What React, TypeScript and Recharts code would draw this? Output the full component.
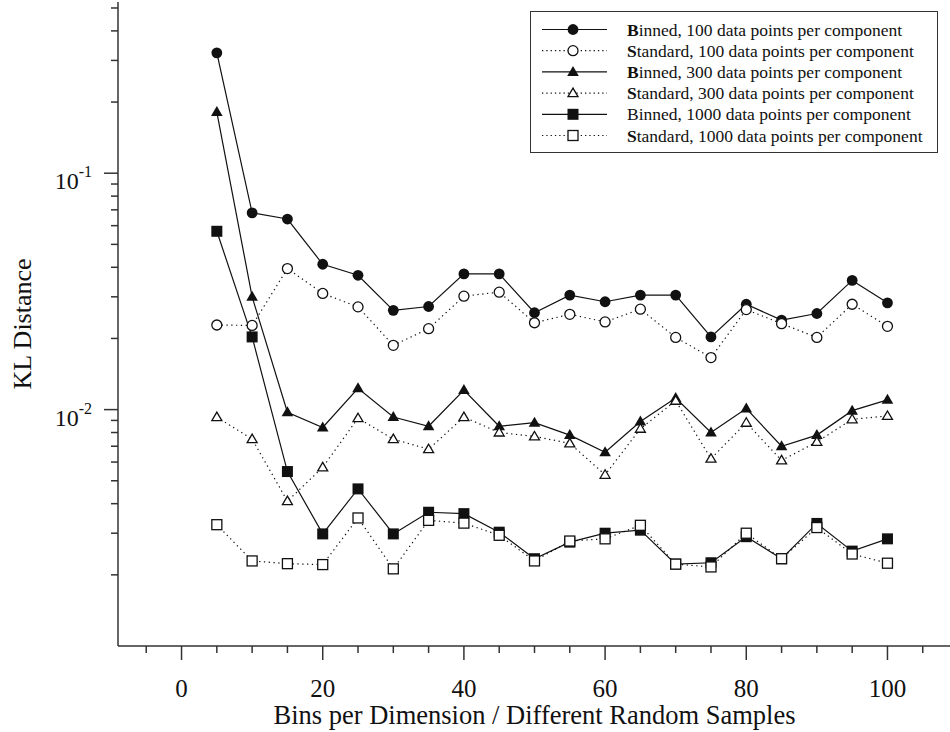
import React from 'react';
import { LineChart, Line, XAxis, YAxis, Legend } from 'recharts';

const FONT = "'Liberation Serif', 'Times New Roman', serif";
const INK = '#111';
const AXIS = '#333';

// bins per dimension / sample index
const X_VALUES = [5, 10, 15, 20, 25, 30, 35, 40, 45, 50, 55, 60, 65, 70, 75, 80, 85, 90, 95, 100];

const BINNED_100 = [0.323, 0.068, 0.064, 0.0412, 0.037, 0.0263, 0.0273, 0.0375, 0.0375, 0.0257,
  0.0305, 0.0286, 0.0305, 0.0305, 0.0203, 0.0279, 0.0239, 0.0255, 0.0352, 0.0283];
const STANDARD_100 = [0.0228, 0.0227, 0.0395, 0.031, 0.0272, 0.0187, 0.022, 0.0302, 0.0314, 0.0233,
  0.0253, 0.0235, 0.0266, 0.0202, 0.0166, 0.0265, 0.0231, 0.0202, 0.0279, 0.0225];
const BINNED_300 = [0.1815, 0.03, 0.00975, 0.0084, 0.0123, 0.0093, 0.0085, 0.0121, 0.0085, 0.0088,
  0.0078, 0.0066, 0.0089, 0.0112, 0.008, 0.0101, 0.007, 0.0078, 0.0099, 0.011];
const STANDARD_300 = [0.0093, 0.0075, 0.0041, 0.0057, 0.0092, 0.0075, 0.0068, 0.0093, 0.008, 0.0077,
  0.0072, 0.0053, 0.0083, 0.0109, 0.0062, 0.0088, 0.0061, 0.0073, 0.0091, 0.0094];
const BINNED_1000 = [0.0568, 0.0203, 0.00547, 0.00298, 0.00462, 0.00298, 0.00368, 0.00363, 0.00303, 0.00234,
  0.00275, 0.003, 0.00309, 0.00222, 0.00225, 0.0029, 0.00234, 0.0033, 0.00252, 0.00284];
const STANDARD_1000 = [0.00326, 0.00229, 0.00223, 0.00221, 0.00348, 0.00212, 0.0034, 0.00331, 0.00294, 0.00229,
  0.00278, 0.00284, 0.00324, 0.00222, 0.00216, 0.003, 0.00234, 0.00317, 0.00245, 0.00224];

const X_TICKS = [-5, 0, 5, 10, 15, 20, 25, 30, 35, 40, 45, 50, 55, 60, 65, 70, 75, 80, 85, 90, 95, 100, 105];
const Y_TICKS = [0.002, 0.003, 0.004, 0.005, 0.006, 0.007, 0.008, 0.009, 0.01,
  0.02, 0.03, 0.04, 0.05, 0.06, 0.07, 0.08, 0.09, 0.1, 0.2, 0.3, 0.4, 0.5];

type Shape = 'circle' | 'triangle' | 'square';

const SERIES: { key: string; name: string; boldFirst: boolean; shape: Shape; filled: boolean; values: number[] }[] = [
  { key: 'b100', name: 'Binned, 100 data points per component', boldFirst: true, shape: 'circle', filled: true, values: BINNED_100 },
  { key: 's100', name: 'Standard, 100 data points per component', boldFirst: true, shape: 'circle', filled: false, values: STANDARD_100 },
  { key: 'b300', name: 'Binned, 300 data points per component', boldFirst: true, shape: 'triangle', filled: true, values: BINNED_300 },
  { key: 's300', name: 'Standard, 300 data points per component', boldFirst: true, shape: 'triangle', filled: false, values: STANDARD_300 },
  { key: 'b1000', name: 'Binned, 1000 data points per component', boldFirst: false, shape: 'square', filled: true, values: BINNED_1000 },
  { key: 's1000', name: 'Standard, 1000 data points per component', boldFirst: true, shape: 'square', filled: false, values: STANDARD_1000 },
];

const data = X_VALUES.map((x, i) => {
  const row: Record<string, number> = { x };
  SERIES.forEach(s => { row[s.key] = s.values[i]; });
  return row;
});

const Marker = ({ shape, filled, cx, cy }: { shape: Shape; filled: boolean; cx: number; cy: number }) => {
  const fill = filled ? INK : '#fff';
  const sw = filled ? 0 : 1.3;
  if (shape === 'circle') {
    return <circle cx={cx} cy={cy} r={filled ? 5.4 : 5} fill={fill} stroke={INK} strokeWidth={sw} />;
  }
  if (shape === 'triangle') {
    const p = filled
      ? `${cx},${cy - 6} ${cx - 5.8},${cy + 4} ${cx + 5.8},${cy + 4}`
      : `${cx},${cy - 5} ${cx - 5},${cy + 3.5} ${cx + 5},${cy + 3.5}`;
    return <polygon points={p} fill={fill} stroke={INK} strokeWidth={sw} />;
  }
  const h = filled ? 5.5 : 5;
  return <rect x={cx - h} y={cy - h} width={h * 2} height={h * 2} fill={fill} stroke={INK} strokeWidth={sw} />;
};

const makeDot = (shape: Shape, filled: boolean) => (props: any) => {
  const { cx, cy, index, dataKey } = props;
  if (cx == null || cy == null) return <g key={`${dataKey}-${index}`} />;
  return (
    <g key={`${dataKey}-${index}`}>
      <Marker shape={shape} filled={filled} cx={cx} cy={cy} />
    </g>
  );
};

const XTick = ({ x, y, payload }: any) => {
  const v = payload.value;
  const major = v % 20 === 0;
  return (
    <g>
      <line x1={x} x2={x} y1={y} y2={y + (major ? 14 : 7)} stroke={AXIS} strokeWidth={1.5} />
      {major && (
        <text x={x} y={y + 51} textAnchor="middle" fontSize={25} fontFamily={FONT} fill={INK}>{v}</text>
      )}
    </g>
  );
};

const YTick = ({ x, y, payload }: any) => {
  const v = payload.value;
  const exp = Math.log10(v);
  const major = Math.abs(exp - Math.round(exp)) < 1e-6;
  return (
    <g>
      <line x1={x - (major ? 14 : 7)} x2={x} y1={y} y2={y} stroke={AXIS} strokeWidth={1.5} />
      {major && (
        <text x={x - 26} y={y + 16} textAnchor="end" fontSize={24} fontFamily={FONT} fill={INK}>
          10<tspan dy={-12} fontSize={16}>{`-${Math.abs(Math.round(exp))}`}</tspan>
        </text>
      )}
    </g>
  );
};

const LegendBox = () => (
  <div style={{ border: `1.3px solid ${AXIS}`, background: '#fff', width: 406, height: 140 }}>
    <svg width={406} height={140} style={{ display: 'block' }}>
      {SERIES.map((s, i) => {
        const cy = 17.5 + i * 21.2;
        return (
          <g key={s.key}>
            <line x1={11} x2={76} y1={cy} y2={cy} stroke={INK} strokeWidth={1.2}
              strokeDasharray={s.filled ? undefined : '1.3 3'} />
            <Marker shape={s.shape} filled={s.filled} cx={42} cy={cy} />
            <text x={96} y={cy + 6} fontSize={17.5} fontFamily={FONT} fill={INK}>
              {s.boldFirst ? <tspan fontWeight="bold">{s.name[0]}</tspan> : s.name[0]}
              {s.name.slice(1)}
            </text>
          </g>
        );
      })}
    </svg>
  </div>
);

export default function App() {
  return (
    <div style={{ position: 'absolute', left: 0, top: 0, width: 950, height: 732, overflow: 'hidden', background: '#fff' }}>
      <LineChart width={952} height={732} data={data} margin={{ top: 2, right: 1, bottom: 0, left: 0 }}
        style={{ fontFamily: FONT }}>
        <XAxis
          xAxisId="bottom"
          type="number"
          dataKey="x"
          domain={[-9, 109]}
          allowDataOverflow
          ticks={X_TICKS}
          interval={0}
          tickSize={0}
          tickMargin={0}
          tickLine={false}
          tick={<XTick />}
          axisLine={{ stroke: AXIS, strokeWidth: 1.5 }}
          height={86}
          label={{
            content: ({ viewBox }: any) => (
              <text x={viewBox.x + viewBox.width / 2} y={viewBox.y + 78} textAnchor="middle"
                fontSize={26.5} fontFamily={FONT} fill={INK}>
                Bins per Dimension / Different Random Samples
              </text>
            ),
          }}
        />
        <XAxis
          xAxisId="top"
          orientation="top"
          type="number"
          domain={[-9, 109]}
          allowDataOverflow
          height={0}
          tick={false}
          tickLine={false}
          axisLine={{ stroke: AXIS, strokeWidth: 1.5 }}
        />
        <YAxis
          type="number"
          scale="log"
          domain={[0.001, 0.53]}
          allowDataOverflow
          ticks={Y_TICKS}
          interval={0}
          width={118}
          tickSize={0}
          tickMargin={0}
          tickLine={false}
          tick={<YTick />}
          axisLine={{ stroke: AXIS, strokeWidth: 1.5 }}
          label={{
            content: ({ viewBox }: any) => {
              const cx = viewBox.x + 31;
              const cy = viewBox.y + viewBox.height / 2;
              return (
                <text x={cx} y={cy} transform={`rotate(-90 ${cx} ${cy})`} textAnchor="middle"
                  fontSize={26} fontFamily={FONT} fill={INK}>
                  KL Distance
                </text>
              );
            },
          }}
        />
        <Legend
          layout="horizontal"
          verticalAlign="middle"
          align="center"
          content={() => <LegendBox />}
          wrapperStyle={{ position: 'absolute', left: 530, top: 11, width: 408, height: 142 }}
        />
        {SERIES.map(s => (
          <Line
            key={s.key}
            xAxisId="bottom"
            type="linear"
            dataKey={s.key}
            name={s.name}
            stroke={INK}
            strokeWidth={1.2}
            strokeDasharray={s.filled ? undefined : '1.3 3.5'}
            dot={makeDot(s.shape, s.filled)}
            activeDot={false}
            isAnimationActive={false}
          />
        ))}
      </LineChart>
    </div>
  );
}
